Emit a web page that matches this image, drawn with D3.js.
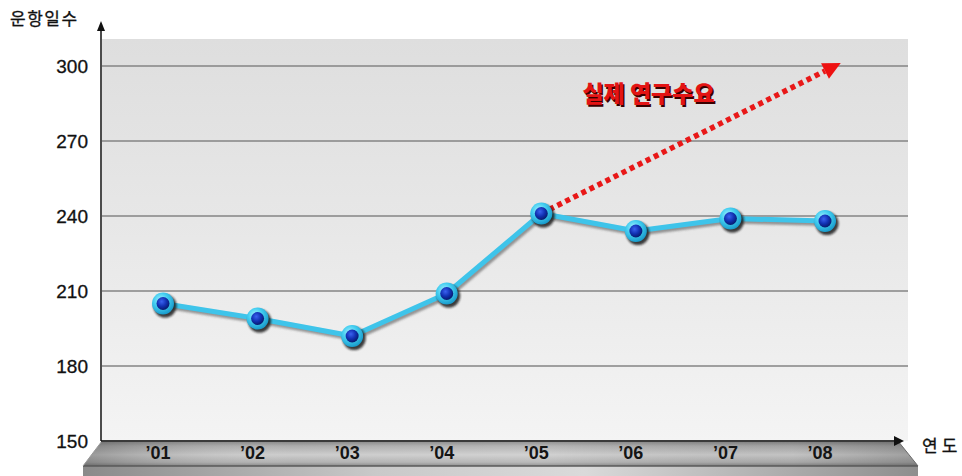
<!DOCTYPE html>
<html>
<head>
<meta charset="utf-8">
<script src="https://cdn.jsdelivr.net/npm/d3@7"></script>
<style>
  html, body { margin: 0; padding: 0; background: #fff; }
  svg { display: block; }
</style>
</head>
<body>
<svg id="chart" width="962" height="476"></svg>
<script>
// 연도별 운항일수
const years = ["’01", "’02", "’03", "’04", "’05", "’06", "’07", "’08"];
const days = [205, 199, 192, 209, 241, 234, 239, 238];
// 실제 연구수요 추세 ('05 → '08)
const demandYears = ["’05", "’08"];
const demandDays = [241, 298];
const yTicks = [150, 180, 210, 240, 270, 300];
const yTitle = "운항일수";
const xTitle = "연도";
const demandLabel = "실제  연구수요";

const svg = d3.select("#chart");
const defs = svg.append("defs");

const plot = { left: 102, right: 908, top: 39, bottom: 441 };
const y = d3.scaleLinear().domain([150, 300]).range([441, 66]);
const x = d3.scalePoint().domain(years).range([163, 825]);

// gradients
function linGrad(id, x1, y1, x2, y2, stops) {
  const g = defs.append("linearGradient").attr("id", id)
    .attr("x1", x1).attr("y1", y1).attr("x2", x2).attr("y2", y2);
  stops.forEach(([o, c]) => g.append("stop").attr("offset", o).attr("stop-color", c));
}
linGrad("bgGrad", 0, 0, 0, 1, [[0, "#dedede"], [0.5, "#e8e8e8"], [1, "#f4f4f4"]]);
linGrad("topFace", 0, 0, 0, 1, [[0, "#7c7c7c"], [0.2, "#a8a8a8"], [0.55, "#cacaca"], [0.85, "#adadad"], [1, "#808080"]]);
linGrad("topShade", 0, 0, 1, 0, [[0, "rgba(60,60,60,0.35)"], [0.25, "rgba(255,255,255,0.05)"], [0.55, "rgba(255,255,255,0.15)"], [0.85, "rgba(60,60,60,0.05)"], [1, "rgba(60,60,60,0.3)"]]);
linGrad("frontFace", 0, 0, 1, 0, [[0, "#8a8a8a"], [0.35, "#c9c9c9"], [0.6, "#dadada"], [1, "#8e8e8e"]]);

const rg1 = defs.append("radialGradient").attr("id", "ringGrad").attr("cx", "40%").attr("cy", "35%").attr("r", "65%");
[[0, "#a8f2ff"], [0.5, "#42cdf0"], [1, "#1a9ccc"]].forEach(([o, c]) => rg1.append("stop").attr("offset", o).attr("stop-color", c));
const rg2 = defs.append("radialGradient").attr("id", "coreGrad").attr("cx", "40%").attr("cy", "35%").attr("r", "65%");
[[0, "#3a62f0"], [0.55, "#1232b4"], [1, "#071a6e"]].forEach(([o, c]) => rg2.append("stop").attr("offset", o).attr("stop-color", c));

defs.append("filter").attr("id", "soft").append("feGaussianBlur").attr("stdDeviation", 1.2);

// plot background
svg.append("rect")
  .attr("x", plot.left).attr("y", plot.top)
  .attr("width", plot.right - plot.left).attr("height", plot.bottom - plot.top)
  .attr("fill", "url(#bgGrad)");

// gridlines
svg.append("g").selectAll("line")
  .data(yTicks.filter(t => t > 150))
  .join("line")
  .attr("x1", plot.left).attr("x2", plot.right)
  .attr("y1", d => y(d)).attr("y2", d => y(d))
  .attr("stroke", "#858585").attr("stroke-width", 1.5);

// y tick labels
svg.append("g").selectAll("text")
  .data(yTicks)
  .join("text")
  .attr("x", 88).attr("y", d => y(d) + 7)
  .attr("text-anchor", "end")
  .attr("font-family", "Liberation Sans, Arial, sans-serif")
  .attr("font-size", 19)
  .attr("stroke", "#111").attr("stroke-width", 0.3)
  .attr("fill", "#111")
  .text(d => d);

// 3D base platform for the category axis
const base = svg.append("g");
base.append("rect")
  .attr("x", 83).attr("y", 466).attr("width", 918 - 83).attr("height", 12)
  .attr("fill", "url(#frontFace)");
const topPts = [[102, 441], [898, 441], [918, 466], [83, 466]];
base.append("polygon").attr("points", topPts.map(p => p.join(",")).join(" "))
  .attr("fill", "url(#topFace)");
base.append("polygon").attr("points", topPts.map(p => p.join(",")).join(" "))
  .attr("fill", "url(#topShade)");
base.append("line").attr("x1", 83).attr("x2", 918).attr("y1", 466).attr("y2", 466)
  .attr("stroke", "#5a5a5a").attr("stroke-width", 1.5);
base.append("line").attr("x1", 102).attr("x2", 83).attr("y1", 441).attr("y2", 466)
  .attr("stroke", "#9a9a9a").attr("stroke-width", 1);
base.append("line").attr("x1", 898).attr("x2", 918).attr("y1", 441).attr("y2", 466)
  .attr("stroke", "#6a6a6a").attr("stroke-width", 1);

// x axis line with arrow
svg.append("line").attr("x1", 101).attr("x2", 896).attr("y1", 441).attr("y2", 441)
  .attr("stroke", "#3a3a3a").attr("stroke-width", 2);
svg.append("path").attr("d", "M904,441 L894,436 L894,446 Z").attr("fill", "#111");

// y axis line with arrow
svg.append("line").attr("x1", 101).attr("x2", 101).attr("y1", 441).attr("y2", 29)
  .attr("stroke", "#111").attr("stroke-width", 1.5);
svg.append("path").attr("d", "M101,21 L97,31 L105,31 Z").attr("fill", "#111");

// category labels on the platform
svg.append("g").selectAll("text")
  .data(years)
  .join("text")
  .attr("x", d => x(d) - 5).attr("y", 459)
  .attr("text-anchor", "middle")
  .attr("font-family", "Liberation Sans, Arial, sans-serif")
  .attr("font-size", 18).attr("font-weight", "bold")
  .attr("fill", "#151515")
  .text(d => d);

// axis titles
svg.append("text").attr("x", 10).attr("y", 25)
  .attr("font-family", "Noto Sans CJK KR, sans-serif")
  .attr("font-size", 17).attr("letter-spacing", 1.5)
  .attr("stroke", "#111").attr("stroke-width", 0.3)
  .attr("fill", "#111").text(yTitle);
svg.append("text").attr("x", 922).attr("y", 452)
  .attr("font-family", "Noto Sans CJK KR, sans-serif")
  .attr("font-size", 17).attr("letter-spacing", 4)
  .attr("stroke", "#111").attr("stroke-width", 0.3)
  .attr("fill", "#111").text(xTitle);

// demand trend: red dotted arrow
const demand = demandYears.map((d, i) => [x(d), y(demandDays[i])]);
defs.append("marker").attr("id", "redHead")
  .attr("viewBox", "0 0 10 10").attr("refX", 0).attr("refY", 5)
  .attr("markerWidth", 3.4).attr("markerHeight", 3.2)
  .attr("markerUnits", "strokeWidth").attr("orient", "auto")
  .append("path").attr("d", "M0,0 L10,5 L0,10 Z").attr("fill", "#ee1111");
svg.append("path")
  .attr("d", d3.line()(demand))
  .attr("fill", "none").attr("stroke", "#e81818")
  .attr("stroke-width", 5.5).attr("stroke-dasharray", "5 4")
  .attr("marker-end", "url(#redHead)");

// demand label
const lbl = svg.append("g")
  .attr("font-family", "Noto Sans CJK KR, sans-serif")
  .attr("font-size", 23).attr("font-weight", 900)
  .attr("text-anchor", "middle").attr("xml:space", "preserve")
  .style("white-space", "pre");
lbl.append("text").attr("x", 650).attr("y", 103.5)
  .attr("fill", "#3a0000").text(demandLabel);
lbl.append("text").attr("x", 648.5).attr("y", 102)
  .attr("fill", "#e41414").text(demandLabel);

// operating days line with shadow
const pts = years.map((d, i) => [x(d), y(days[i])]);
const line = d3.line();
svg.append("path").attr("d", line(pts))
  .attr("transform", "translate(1.5,2.5)")
  .attr("fill", "none").attr("stroke", "#4a4a4a").attr("stroke-opacity", 0.55)
  .attr("stroke-width", 5).attr("filter", "url(#soft)");
svg.append("path").attr("d", line(pts))
  .attr("fill", "none").attr("stroke", "#3ec4ea").attr("stroke-width", 5)
  .attr("stroke-linejoin", "round");

// markers
const mk = svg.append("g").selectAll("g").data(pts).join("g")
  .attr("transform", d => `translate(${d[0]},${d[1]})`);
mk.append("circle").attr("cx", 2).attr("cy", 2.5).attr("r", 11.5)
  .attr("fill", "#1a1a1a").attr("opacity", 0.85).attr("filter", "url(#soft)");
mk.append("circle").attr("r", 11).attr("fill", "url(#ringGrad)");
mk.append("circle").attr("r", 6.5).attr("fill", "url(#coreGrad)");
</script>
</body>
</html>
